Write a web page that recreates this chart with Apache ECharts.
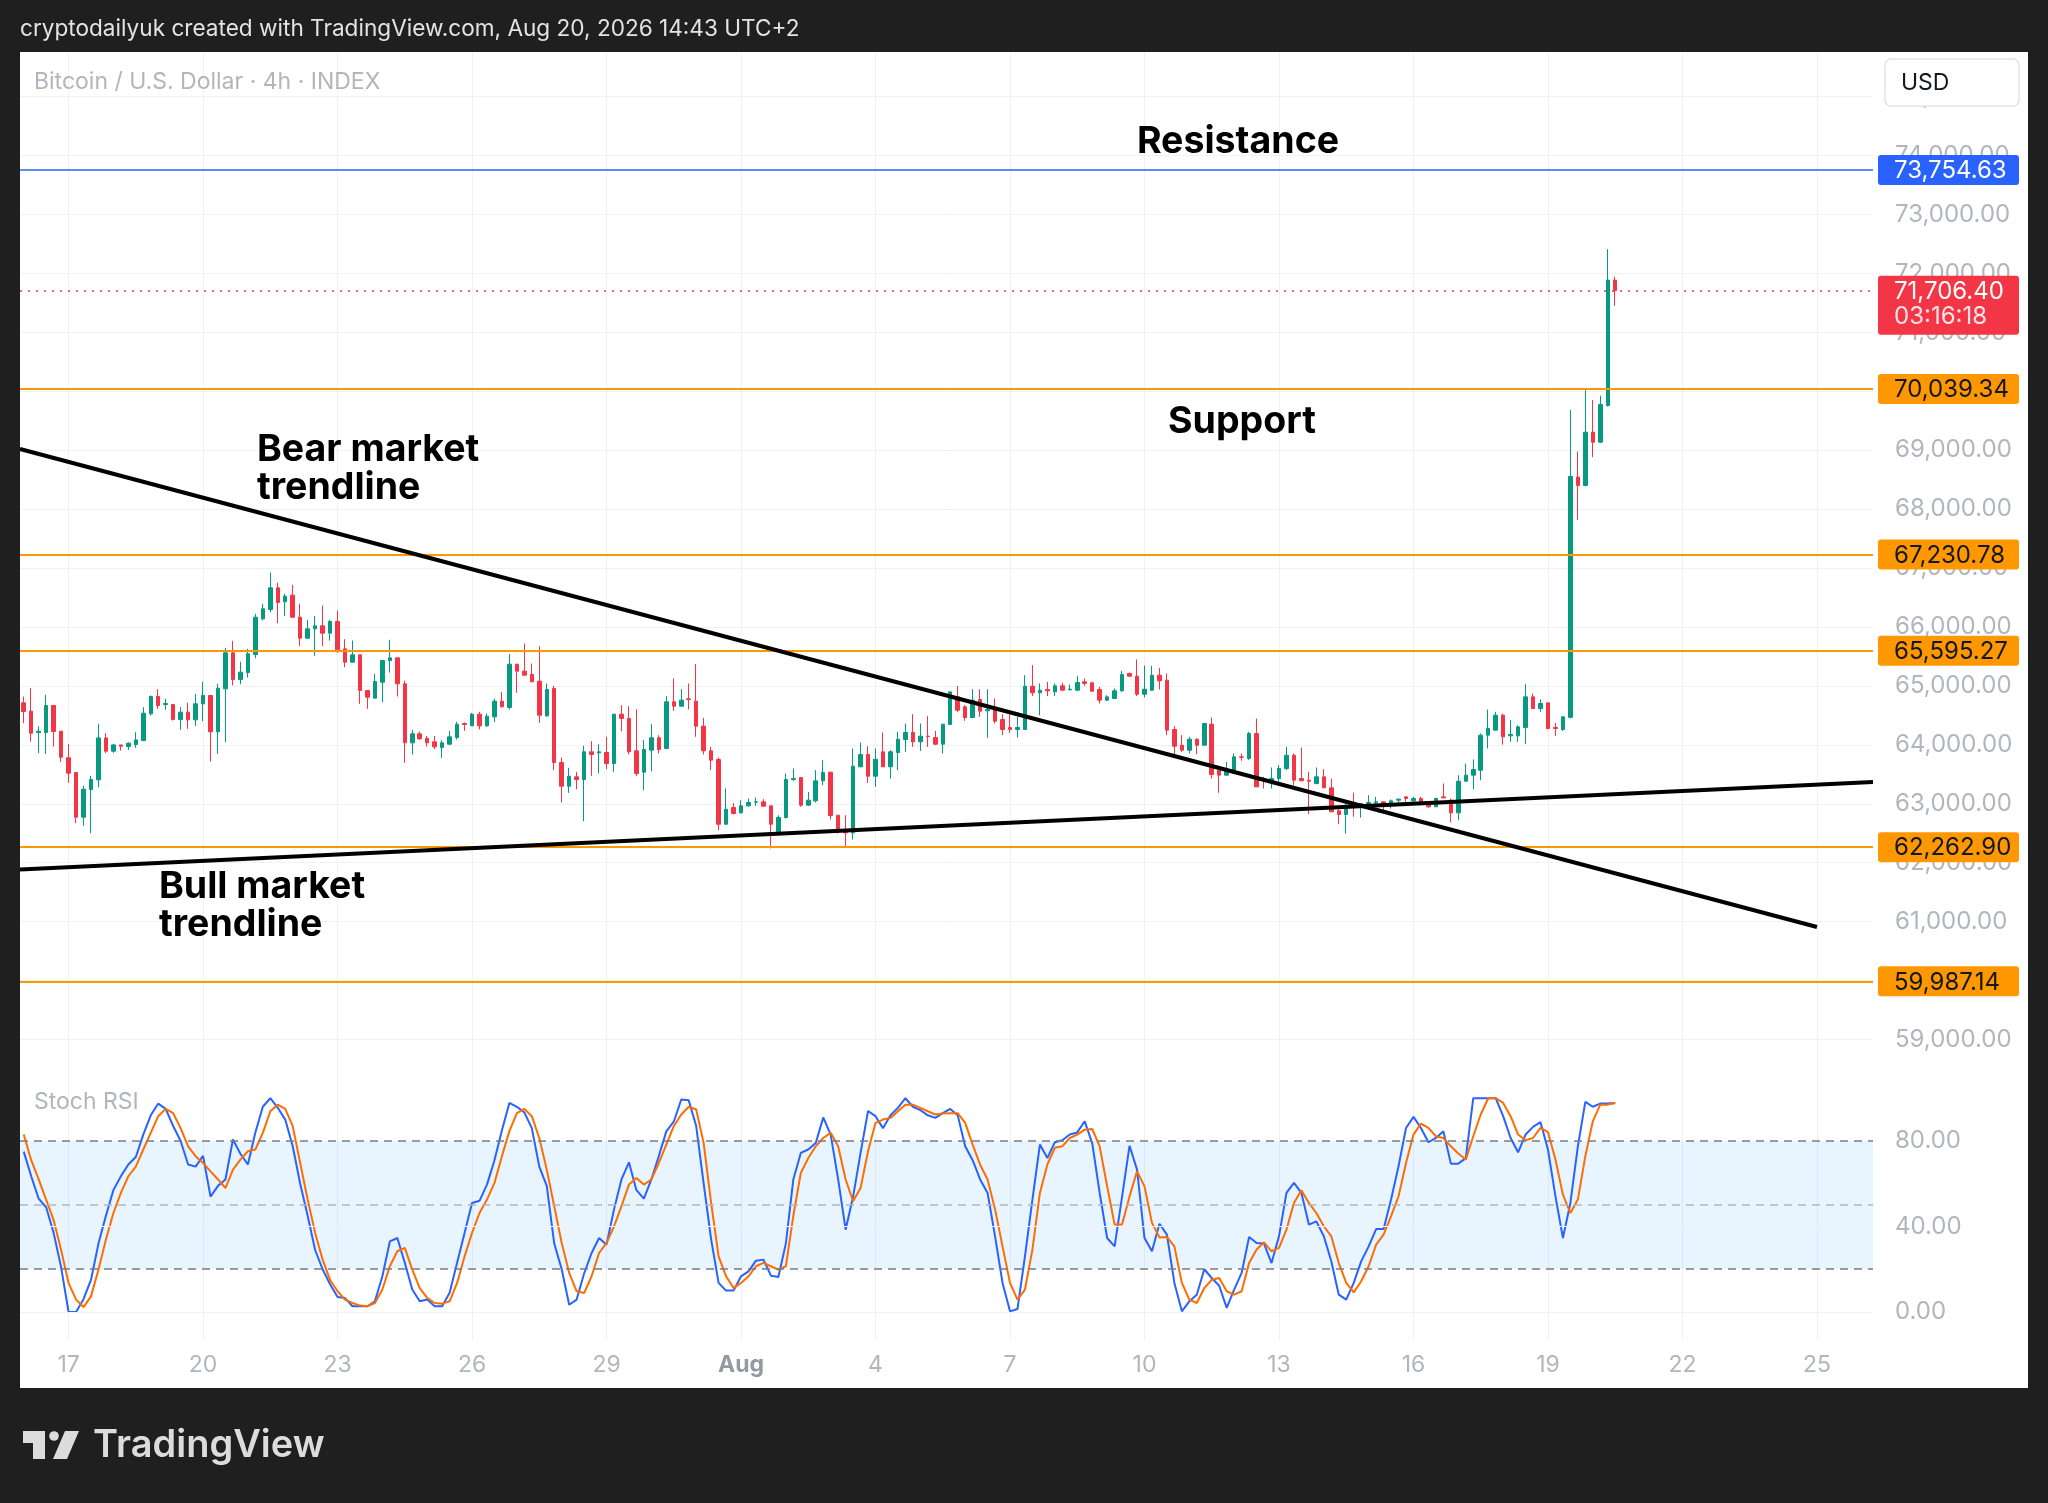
<!DOCTYPE html>
<html><head><meta charset="utf-8">
<script src="https://cdn.jsdelivr.net/npm/echarts@6/dist/echarts.min.js"></script>
<style>html,body{margin:0;padding:0;background:#1f1f1f;} #c{width:2048px;height:1503px;}</style>
</head><body><div id="c"></div>
<script>
const FONT = 'Inter, "Noto Sans", sans-serif';

// ---- time axis (4h slots) ----
const SLOT_COUNT = 248;
const START_MS = Date.UTC(2026, 6, 16, 2, 0);
const FIRST_LABEL_SLOT = 6;      // slot of "17"
const LABEL_STEP = 18;           // 3 days of 4h candles
const tickLabels = ['17','20','23','26','29','Aug','4','7','10','13','16','19','22','25'];

// ---- candles (Bitcoin / U.S. Dollar, 4h) ----
const open = [64713,64571,64209,64209,64667,64232,63779,63530,62772,63242,
63406,64118,63892,63999,63971,64005,64073,64526,64820,64684,
64684,64430,64554,64424,64696,64837,64220,64950,65561,65108,
65227,65533,66138,66297,66664,66427,66540,66166,65810,65968,
66019,65895,66093,65629,65403,65527,64922,64792,65063,65431,
65476,65035,64034,64186,64110,64051,63955,64011,64125,64362,
64322,64520,64322,64475,64741,64634,65369,65250,65194,65080,
64492,64956,63700,63298,63457,63411,63881,63864,63870,63683,
64520,64447,63898,63536,63910,64119,63938,64730,64656,64781,
64741,64317,63898,63751,62653,62936,62846,62965,63027,63032,
62965,62523,62767,63411,63445,62976,63049,63389,63535,62806,
62552,62506,63626,63836,63468,63881,63627,63870,64091,64209,
64051,64147,64124,64011,64345,64814,64645,64464,64769,64577,
64599,64430,64294,64260,64260,64995,64882,64939,64899,65001,
64933,64927,65069,65052,64939,64758,64786,64916,65210,65165,
64859,64927,65182,65097,64260,63994,63909,64096,63994,64350,
63570,63485,63513,63796,63768,64192,63428,63372,63428,63598,
63824,63428,63400,63343,63457,63270,62880,62817,63004,62976,
63004,63015,63032,62976,63061,63117,63049,63089,63032,62948,
63117,63061,62846,63383,63485,63570,64164,64249,64503,64152,
64152,64294,64814,64616,64712,64294,64260,64466,68543,68402,
69305,69135,69757,71886];
const close = [64565,64198,64232,64667,64226,63790,63519,62772,63247,63411,
64118,63892,63999,63977,64028,64084,64537,64820,64667,64701,
64430,64554,64424,64696,64837,64220,64961,65561,65108,65233,
65544,66166,66308,66664,66415,66523,66166,65810,65968,66019,
65895,66093,65612,65403,65527,64922,64809,65075,65431,65476,
65035,64034,64186,64101,64035,63966,64034,64136,64351,64345,
64520,64322,64486,64741,64645,65369,65250,65182,65069,64503,
64939,63700,63298,63468,63411,63881,63836,63881,63683,64520,
64447,63881,63513,63921,64119,63921,64730,64656,64758,64769,
64317,63898,63740,62653,62908,62835,62965,63021,63032,62959,
62653,62767,63411,63428,62976,63061,63389,63530,62800,62523,
62506,63638,63836,63468,63756,63627,63881,64096,64209,64051,
64147,64141,64011,64350,64899,64588,64464,64758,64571,64600,
64401,64260,64260,64294,64995,64882,64927,64916,65001,64927,
64944,65058,65041,64910,64758,64814,64916,65193,65165,64859,
64944,65182,65086,64249,63977,63909,64096,63994,64362,63496,
63485,63570,63796,63790,64192,63287,63400,63428,63598,63824,
63400,63389,63383,63457,63270,62863,62817,62976,62976,63004,
63021,63032,62965,63049,63078,63089,63089,63004,62948,63089,
63100,62846,63383,63485,63581,64164,64277,64503,64136,64175,
64305,64814,64616,64701,64277,64277,64475,68554,68402,69305,
69135,69774,71886,71706.4];
const low = [64367,64056,63858,63847,63971,63706,63355,62670,62625,62501,
63281,63858,63864,63903,63915,63949,64062,64497,64611,64594,
64413,64254,64271,64316,64401,63717,63847,64045,65007,65029,
65142,65470,66110,66251,66065,66183,66155,65674,65799,65510,
65674,65770,65561,65318,65397,64695,64611,64792,64724,65227,
64820,63694,63836,64090,63970,63926,63779,63995,64090,64237,
64322,64260,64305,64390,64634,64600,64882,65182,65069,64373,
64475,63570,63021,63185,63247,62704,63474,63513,63587,63542,
64232,63836,63468,63230,63553,63853,63926,64577,64645,64600,
64136,63836,63570,62552,62653,62818,62835,62948,62965,62948,
62241,62512,62750,63389,62948,62965,63021,63315,62733,62495,
62269,62393,63626,63355,63287,63627,63428,63570,63881,63966,
63898,63966,63994,63853,64345,64560,64407,64464,64475,64118,
64362,64164,64203,64124,64260,64826,64503,64826,64826,64927,
64927,64916,65001,64899,64701,64746,64786,64899,65154,64826,
64803,64916,64939,64164,63824,63881,63853,63841,63994,63428,
63185,63485,63513,63728,63740,63287,63259,63259,63372,63570,
63315,63389,62823,63332,63270,62863,62653,62495,62778,62766,
62976,62976,62891,62919,62993,63032,63004,62976,62931,62948,
63100,62682,62721,63372,63247,63400,63938,64249,64005,64051,
64051,64011,64616,64560,64260,64152,64237,64449,67820,68385,
68881,69124,69740,71451];
const high = [64820,64961,64316,64848,64667,64232,64017,63530,63304,63474,
64356,64198,64017,63999,64045,64215,64639,64837,64944,64780,
64684,64639,64713,64865,65069,64837,65035,65646,65765,65408,
65629,66223,66393,66924,66749,66562,66715,66393,66121,66183,
66364,66121,66279,65793,65770,65527,64922,65205,65431,65782,
65476,65091,64254,64226,64150,64153,64079,64237,64390,64379,
64543,64560,64532,64786,64899,65539,65369,65720,65380,65674,
65041,65001,63785,63610,63542,63983,64062,64011,64136,64520,
64673,64656,64605,64079,64351,64164,64826,65126,64945,65041,
65369,64458,63966,63785,63259,63015,63061,63089,63106,63078,
62965,62806,63513,63598,63445,63202,63570,63740,63542,62806,
62806,63937,64039,63977,63937,64209,63909,64220,64362,64520,
64362,64486,64237,64350,64899,65001,64673,64944,64944,64944,
64786,64520,64520,64475,65182,65352,65041,65069,65041,65052,
65024,65171,65126,65069,64984,64843,64956,65255,65227,65448,
65346,65340,65306,65210,64317,64164,64136,64107,64373,64464,
63570,63711,63853,63853,64220,64447,63457,63615,63655,63966,
63853,63955,63542,63615,63587,63428,62919,63004,63190,63004,
63145,63117,63043,63072,63089,63128,63117,63117,63032,63106,
63343,63089,63485,63683,63751,64192,64599,64560,64531,64418,
64333,65029,64871,64769,64712,64373,64486,69683,68977,70022,
69853,69926,72411,71942];

// ---- Stoch RSI ----
const stochK = [75,63.5,53,49,37,21,0,0,6,15,
32,45,57,63.5,69,72.5,83,92,97.5,95,
87,80,69,68,73,54,59,62,80.7,74,
69,84,96,100,95.5,90,77.5,60,45,29,
20,13,7,6.5,2.7,2.7,2.7,5,16.7,33,
34.6,23,10.5,5,5.8,2.7,2.7,9,23,37,
51,52,59.6,71,85,97.8,96,93.4,86,68,
59,32,20,3.4,5.8,18,27.6,34.6,31.5,48,
62,70,57,53,62,73,84.5,89,99.4,99,
87,60,34,13.6,10,10,16.7,19,24,24.5,
17,16.4,32,62,74.4,76,79,91,83,62,
38.5,54,74.4,94,91.6,86,92,95.5,100,96,
94.4,92,90.8,93,95,92,77.5,71,62,55.7,
35.4,13.6,0.3,
1.4,26,52.6,78.3,72,79.4,80.3,83,84,89.2,
79,55.7,34.6,30.7,54,77.8,66.6,34.6,28.4,41.3,
36.2,13.6,0.3,5,8.1,20,15.9,12.3,1.9,10.5,
18.3,35.1,32.3,32,22.9,35.4,55.7,60.4,55.7,40.9,
42.4,35.4,23.7,8.1,5.8,13.6,23.7,30.7,38.8,38.8,
52.6,68.2,86.1,91.3,86.1,79.4,81.4,84.6,69.4,69.4,
72,100,100,100,100,91.6,81.4,74.7,83,86.6,
88.8,76,54.1,34.6,51,77.5,98.3,96,97.5,97.5,
97.8];
const stochD = [83,71,62,52.6,43,29,13.6,5.8,2.3,7.3,
19.8,33.9,46.3,55.7,63.5,68,76,83.8,91.6,95,
93,86,77.5,72.9,69.7,65.8,62,58,66.6,71.3,
75.2,76,83.8,93.9,97,95,86.9,69.7,52.6,37,
24.5,15,9.7,5.8,4.2,3,2.7,4.2,10.5,21.4,
28.4,30,19.8,11.2,6.6,4.2,3.9,5,13.6,26,
37,46.3,52.6,60.4,72.9,84.6,93,95,91.6,81.4,
66.6,49.5,32.3,18.3,9.7,8.9,16.7,27.6,32.3,40,
49.5,59.6,62.7,59.6,62,69.7,78.3,86.9,92.4,96,
94.7,79,51,26,16.7,11.2,13.6,16.7,21.4,23,
21.4,19.8,21.4,45,65,72,77.5,81.4,83.8,77.5,
62,51.8,58,75.2,88.5,90,90.8,93.9,97,97,
95.5,93.9,92.4,92.8,93,93,88.5,78.3,68.9,62,
48,30.7,13.6,
5.8,10.5,29.2,55.7,69,76.8,77.5,81.4,83,85.3,
85.6,77.5,58.8,40.9,40.9,54.1,65.8,58.8,41.7,34.9,
35.1,30.7,13.6,5.8,4.2,11.2,15.1,15.9,9.7,8.1,
9.7,22.9,29.2,32.6,28.4,30,38.5,51,56.9,51,
46.3,40.1,35.4,22.9,13.6,9.2,14.4,21.4,31.5,36.2,
44.8,54.1,69.7,83,88.1,86.1,82.2,81.4,77.5,74.1,
71.3,82.2,92.4,100,100,97.8,91.6,83,80.3,81.4,
86.1,84.1,71.3,54.9,46.3,52.6,72.9,89.2,97,97,
97.8];

// ---- drawn levels & trendlines ----
const resistanceLevel = 73754.63;
const supportLevels = [70039.34, 67230.78, 65595.27, 62262.90, 59987.14];
const lastPrice = 71706.40;
const countdown = '03:16:18';
const bearTrend = [[-0.5, 69020], [240, 60908]];   // [slot, price]
const bullTrend = [[-0.5, 61884], [247.5, 63369]];
const stochBands = {upper: 80, middle: 50, lower: 20};

// ---------------------------------------------------------------
const categories = [];
for (let i = 0; i < SLOT_COUNT; i++) {
  const d = new Date(START_MS + i * 4 * 3600 * 1000);
  categories.push(d.toISOString().slice(0, 16).replace('T', ' '));
}
const candles = open.map((o, i) => [o, close[i], low[i], high[i]]);
const fmtPrice = v => v.toLocaleString('en-US', {minimumFractionDigits: 2, maximumFractionDigits: 2});
const toU = p => [p[0] - FIRST_LABEL_SLOT, p[1]];

const GL = 20, GW = 1853;
const gridLineColor = '#f0f1f4';
const labelColor = '#b2b5be';
const AX_FS = 24;

const chart = echarts.init(document.getElementById('c'), null, {renderer: 'canvas', width: 2048, height: 1503});

const option = {
  animation: false,
  backgroundColor: '#ffffff',
  textStyle: {fontFamily: FONT},
  grid: [
    {left: GL, top: 52, width: GW, height: 1018, containLabel: false, outerBoundsMode: 'none'},
    {left: GL, top: 1070, width: GW, height: 270, containLabel: false, outerBoundsMode: 'none'}
  ],
  xAxis: [
    {type: 'category', gridIndex: 0, data: categories, boundaryGap: true, show: false},
    {type: 'category', gridIndex: 1, data: categories, boundaryGap: true,
      axisLine: {show: false}, axisTick: {show: false}, splitLine: {show: false},
      axisLabel: {
        show: true, margin: 14, fontSize: 23, color: labelColor, fontFamily: FONT,
        interval: (idx) => idx >= FIRST_LABEL_SLOT && (idx - FIRST_LABEL_SLOT) % LABEL_STEP === 0,
        formatter: (val, idx) => {
          const t = tickLabels[(idx - FIRST_LABEL_SLOT) / LABEL_STEP];
          if (t === undefined) return '';
          return t === 'Aug' ? '{b|Aug}' : t;
        },
        rich: {b: {fontWeight: 'bold', color: '#9598a1', fontSize: 23, fontFamily: FONT}}
      }
    },
    {type: 'value', gridIndex: 0, min: -0.5 - FIRST_LABEL_SLOT, max: SLOT_COUNT - 0.5 - FIRST_LABEL_SLOT,
      minInterval: LABEL_STEP, maxInterval: LABEL_STEP,
      axisLine: {show: false}, axisTick: {show: false}, axisLabel: {show: false},
      splitLine: {show: true, showMinLine: false, showMaxLine: false, lineStyle: {color: gridLineColor, width: 1}}},
    {type: 'value', gridIndex: 1, min: -0.5 - FIRST_LABEL_SLOT, max: SLOT_COUNT - 0.5 - FIRST_LABEL_SLOT,
      minInterval: LABEL_STEP, maxInterval: LABEL_STEP,
      axisLine: {show: false}, axisTick: {show: false}, axisLabel: {show: false},
      splitLine: {show: true, showMinLine: false, showMaxLine: false, lineStyle: {color: gridLineColor, width: 1}}}
  ],
  yAxis: [
    {type: 'value', gridIndex: 0, position: 'right', min: 58482, max: 75757,
      minInterval: 1000, maxInterval: 1000,
      axisLine: {show: false}, axisTick: {show: false},
      axisLabel: {margin: 22, fontSize: AX_FS, color: labelColor, fontFamily: FONT, align: 'left',
        formatter: v => (Math.abs(v % 1000) < 1e-6 ? fmtPrice(v) : '')},
      splitLine: {show: true, showMinLine: false, showMaxLine: false, lineStyle: {color: gridLineColor, width: 1}}},
    {type: 'value', gridIndex: 1, position: 'right', min: -13.1, max: 113.2,
      minInterval: 20, maxInterval: 20,
      axisLine: {show: false}, axisTick: {show: false}, splitLine: {show: false},
      axisLabel: {margin: 22, fontSize: AX_FS, color: labelColor, fontFamily: FONT, align: 'left',
        formatter: v => ([0, 40, 80].indexOf(Math.round(v * 1000) / 1000) >= 0 ? v.toFixed(2) : '')}}
  ],
  series: [
    {
      type: 'candlestick', xAxisIndex: 0, yAxisIndex: 0, data: candles, barWidth: 4, z: 2,
      itemStyle: {color: '#089981', color0: '#f23645', borderColor: '#089981', borderColor0: '#f23645', borderWidth: 1}
    },
    {
      type: 'line', xAxisIndex: 0, yAxisIndex: 0, data: [], z: 4, silent: true,
      markLine: {
        silent: true, symbol: ['none', 'none'], label: {show: false}, animation: false,
        data: [
          {yAxis: resistanceLevel, lineStyle: {color: '#2962ff', width: 1.5, type: 'solid'}},
          {yAxis: lastPrice, lineStyle: {color: '#f23645', width: 1.5, type: [2, 6]}}
        ].concat(supportLevels.map(v => ({yAxis: v, lineStyle: {color: '#ff9800', width: 2, type: 'solid'}})))
      }
    },
    {
      type: 'line', xAxisIndex: 2, yAxisIndex: 0, data: bearTrend.map(toU), z: 5, silent: true,
      showSymbol: false, symbol: 'none', lineStyle: {color: '#000000', width: 4}
    },
    {
      type: 'line', xAxisIndex: 2, yAxisIndex: 0, data: bullTrend.map(toU), z: 5, silent: true,
      showSymbol: false, symbol: 'none', lineStyle: {color: '#000000', width: 4}
    },
    {
      type: 'line', xAxisIndex: 1, yAxisIndex: 1, data: [], z: 1, silent: true,
      markArea: {silent: true, itemStyle: {color: 'rgba(33,150,243,0.1)'},
        data: [[{yAxis: stochBands.lower}, {yAxis: stochBands.upper}]]},
      markLine: {
        silent: true, symbol: ['none', 'none'], label: {show: false}, animation: false,
        data: [
          {yAxis: 0, lineStyle: {color: gridLineColor, width: 1, type: 'solid'}},
          {yAxis: 40, lineStyle: {color: gridLineColor, width: 1, type: 'solid'}},
          {yAxis: stochBands.upper, lineStyle: {color: '#787b86', width: 1.5, type: [8, 6]}},
          {yAxis: stochBands.middle, lineStyle: {color: '#b2b5be', width: 1.5, type: [8, 6]}},
          {yAxis: stochBands.lower, lineStyle: {color: '#787b86', width: 1.5, type: [8, 6]}}
        ]
      }
    },
    {
      type: 'line', xAxisIndex: 1, yAxisIndex: 1, data: stochK, z: 3, silent: true,
      showSymbol: false, symbol: 'none', lineStyle: {color: '#2962ff', width: 2}
    },
    {
      type: 'line', xAxisIndex: 1, yAxisIndex: 1, data: stochD, z: 3, silent: true,
      showSymbol: false, symbol: 'none', lineStyle: {color: '#ff6d00', width: 2}
    }
  ]
};
chart.setOption(option);

// ---- overlays: frame, texts, price tags ----
const yPix = v => chart.convertToPixel({yAxisIndex: 0}, v);
const dark = '#1f1f1f';
const g = [];
g.push({type: 'rect', shape: {x: 0, y: 0, width: 2048, height: 52}, style: {fill: dark}, z: 100});
g.push({type: 'rect', shape: {x: 0, y: 1388, width: 2048, height: 115}, style: {fill: dark}, z: 100});
g.push({type: 'rect', shape: {x: 0, y: 0, width: 20, height: 1503}, style: {fill: dark}, z: 100});
g.push({type: 'rect', shape: {x: 2028, y: 0, width: 20, height: 1503}, style: {fill: dark}, z: 100});
g.push({type: 'text', x: 20, y: 29, z: 101, style: {text: 'cryptodailyuk created with TradingView.com, Aug 20, 2026 14:43 UTC+2',
  fill: '#e3e3e3', fontSize: 22.6, fontFamily: FONT, align: 'left', verticalAlign: 'middle'}});
// footer logo
g.push({type: 'polygon', z: 101, shape: {points: [[23,1431],[45,1431],[45,1459],[33,1459],[33,1443],[23,1443]]}, style: {fill: '#dcdcdc'}});
g.push({type: 'circle', z: 101, shape: {cx: 54, cy: 1436, r: 4.8}, style: {fill: '#dcdcdc'}});
g.push({type: 'polygon', z: 101, shape: {points: [[65,1431],[79,1431],[67,1459],[53,1459]]}, style: {fill: '#dcdcdc'}});
g.push({type: 'text', x: 93, y: 1446, z: 101, style: {text: 'TradingView', fill: '#dcdcdc', fontSize: 38, fontWeight: 600,
  fontFamily: FONT, align: 'left', verticalAlign: 'middle'}});
// pane titles
g.push({type: 'text', x: 34, y: 82, z: 60, style: {text: 'Bitcoin / U.S. Dollar · 4h · INDEX', fill: labelColor, fontSize: 23,
  fontFamily: FONT, align: 'left', verticalAlign: 'middle'}});
g.push({type: 'text', x: 34, y: 1102, z: 60, style: {text: 'Stoch RSI', fill: labelColor, fontSize: 23,
  fontFamily: FONT, align: 'left', verticalAlign: 'middle'}});
// USD box
g.push({type: 'rect', z: 60, shape: {x: 1885, y: 59, width: 134, height: 47, r: 6}, style: {fill: '#ffffff', stroke: '#e0e3eb', lineWidth: 1.5}});
g.push({type: 'text', x: 1901, y: 83, z: 61, style: {text: 'USD', fill: '#131722', fontSize: 23, fontFamily: FONT, align: 'left', verticalAlign: 'middle'}});
// annotations
const ann = (text, x, y, align) => ({type: 'text', x, y, z: 60, style: {text, fill: '#000000', fontSize: 37.5, fontWeight: 'bold',
  fontFamily: FONT, align: align, verticalAlign: 'top', lineHeight: 38}});
g.push(ann('Resistance', 1238, 123, 'center'));
g.push(ann('Support', 1242, 403, 'center'));
g.push(ann('Bear market\ntrendline', 257, 431, 'left'));
g.push(ann('Bull market\ntrendline', 159, 868, 'left'));
// price tags
const TAG_X = 1878, TAG_W = 141;
const tag = (value, bg, fg) => {
  const y = yPix(value);
  g.push({type: 'rect', z: 70, shape: {x: TAG_X, y: y - 15, width: TAG_W, height: 30, r: 3}, style: {fill: bg}});
  g.push({type: 'text', x: 1894, y: y + 1, z: 71, style: {text: fmtPrice(value), fill: fg, fontSize: AX_FS, fontFamily: FONT,
    align: 'left', verticalAlign: 'middle'}});
};
tag(resistanceLevel, '#2962ff', '#ffffff');
supportLevels.forEach(v => tag(v, '#ff9800', '#131722'));
(function () {
  const y = yPix(lastPrice);
  g.push({type: 'rect', z: 70, shape: {x: TAG_X, y: y - 15, width: TAG_W, height: 59, r: 3}, style: {fill: '#f23645'}});
  g.push({type: 'text', x: 1894, y: y + 1, z: 71, style: {text: fmtPrice(lastPrice), fill: '#ffffff', fontSize: AX_FS, fontFamily: FONT,
    align: 'left', verticalAlign: 'middle'}});
  g.push({type: 'text', x: 1894, y: y + 26, z: 71, style: {text: countdown, fill: '#fde2e5', fontSize: AX_FS, fontFamily: FONT,
    align: 'left', verticalAlign: 'middle'}});
})();
chart.setOption({graphic: {elements: g}});
</script>
</body></html>
